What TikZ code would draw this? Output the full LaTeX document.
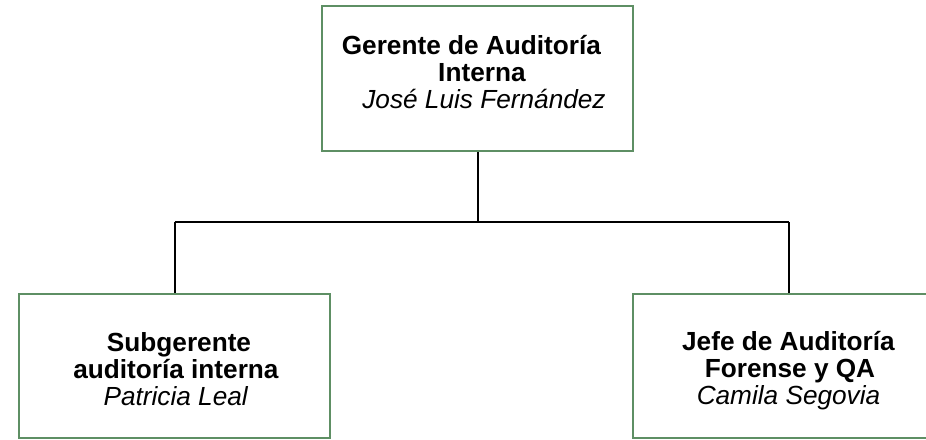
\documentclass[tikz,border=0pt]{standalone}
\usepackage{fontspec}
\setmainfont{Liberation Sans}
\definecolor{boxgreen}{HTML}{5E8F64}
\tikzset{
  orgbox/.style={draw=boxgreen, line width=2pt, fill=white, inner sep=0pt},
  orgtext/.style={inner sep=0pt, align=center, font=\fontsize{26.2pt}{27pt}\selectfont},
  link/.style={draw=black, line width=2pt}
}
\begin{document}
\begin{tikzpicture}[x=1pt, y=-1pt]
\clip (0,0) rectangle (926,439);
\fill[white] (0,0) rectangle (926,439);
% boxes
\node[orgbox, minimum width=311pt, minimum height=145pt] (top) at (477.5,78.5) {};
\node[orgbox, minimum width=311pt, minimum height=143.5pt] (left) at (174.5,366) {};
\node[orgbox, minimum width=311pt, minimum height=143.5pt] (right) at (788.5,366) {};
\coordinate (hub) at (477.5,222);
\coordinate (hl) at (174.5,222);
\coordinate (hr) at (788.5,222);
% connectors
\draw[link] (top.south) -- (hub);
\draw[link] (hl) -- (hr);
\draw[link] (hl) -- (left.north);
\draw[link] (hr) -- (right.north);
% texts
\node[orgtext] (ttop) at (477.5,72.5) {\textbf{Gerente de Auditoría}\hspace*{12pt}\\ \hspace*{9pt}\textbf{Interna}\\ \hspace*{13pt}\textit{José Luis Fernández}};
\node[orgtext] (tleft) at (176,369) {\hspace*{6pt}\textbf{Subgerente}\\ \textbf{auditoría interna}\\ \textit{Patricia Leal}};
\node[orgtext] (tright) at (788.5,371) {\textbf{Jefe de Auditoría}\\ \hspace*{3pt}\textbf{Forense y QA}\\ \textit{Camila Segovia}};
\end{tikzpicture}
\end{document}
